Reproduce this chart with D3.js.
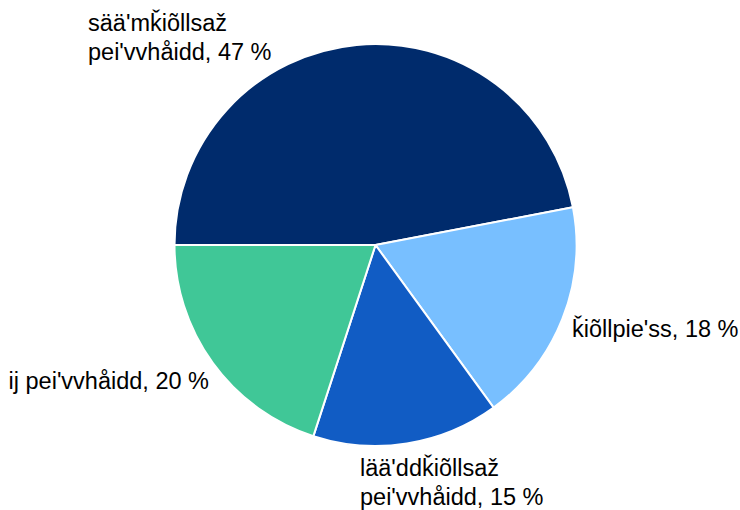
<!DOCTYPE html>
<html><head><meta charset="utf-8">
<script src="https://cdn.jsdelivr.net/npm/d3@7"></script>
<style>body{margin:0;background:#fff}svg{display:block}</style>
</head><body>
<svg id="c" width="740" height="510"></svg>
<script>
const categories = ["sää'mǩiõllsaž pei'vvhåidd", "ǩiõllpie'ss", "lää'ddǩiõllsaž pei'vvhåidd", "ij pei'vvhåidd"];
const values = [47, 18, 15, 20];
const colors = ["#002b6c", "#78bfff", "#115cc4", "#40c797"];
const labelLines = [["sää'mǩiõllsaž", "pei'vvhåidd, 47 %"], ["ǩiõllpie'ss, 18 %"], ["lää'ddǩiõllsaž", "pei'vvhåidd, 15 %"], ["ij pei'vvhåidd, 20 %"]];

const svg = d3.select("#c");
const cx = 375.5, cy = 245, r = 201;
const g = svg.append("g").attr("transform", `translate(${cx},${cy})`);
const pie = d3.pie().sort(null).startAngle(-Math.PI/2).endAngle(1.5*Math.PI);
const arcs = pie(values);
const arc = d3.arc().innerRadius(0).outerRadius(r);
g.selectAll("path").data(arcs).join("path")
  .attr("d", arc).attr("fill", (d,i)=>colors[i])
  .attr("stroke", "#fff").attr("stroke-width", 2).attr("stroke-linejoin","round");

// label anchors (x, first baseline, anchor)
const labelPos = [[88, 31, "start"], [572, 337, "start"], [360, 476, "start"], [209, 389, "end"]];
const lg = svg.append("g").attr("font-family", "Liberation Sans, Arial, sans-serif").attr("font-size", 23.5).attr("fill", "#000");
labelLines.forEach((lines, i) => {
  const t = lg.append("text").attr("x", labelPos[i][0]).attr("y", labelPos[i][1]).attr("text-anchor", labelPos[i][2]);
  lines.forEach((l, j) => t.append("tspan").attr("x", labelPos[i][0]).attr("dy", j ? 29 : 0).text(l));
});
</script>
</body></html>
